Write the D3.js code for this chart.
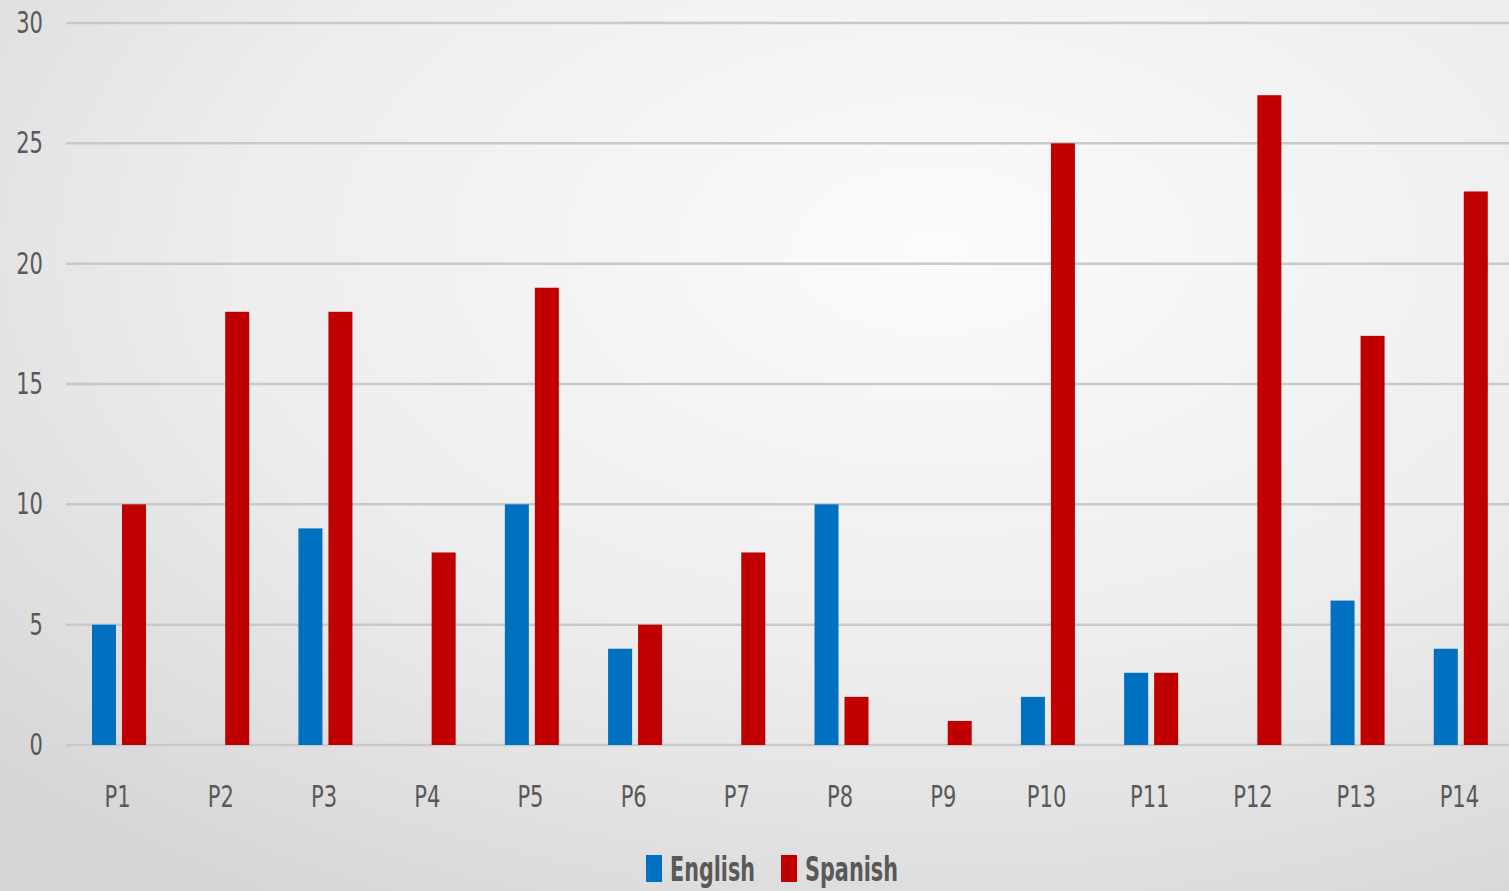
<!DOCTYPE html>
<html>
<head>
<meta charset="utf-8">
<script src="https://cdn.jsdelivr.net/npm/d3@7"></script>
<style>
  body { margin: 0; overflow: hidden; }
  text { font-family: "DejaVu Sans Condensed", "Liberation Sans", sans-serif; fill: #595959; }
</style>
</head>
<body>
<div id="chart"></div>
<script>
// chart values
const categories = ["P1","P2","P3","P4","P5","P6","P7","P8","P9","P10","P11","P12","P13","P14"];
const english = [5, 0, 9, 0, 10, 4, 0, 10, 0, 2, 3, 0, 6, 4];
const spanish = [10, 18, 18, 8, 19, 5, 8, 2, 1, 25, 3, 27, 17, 23];
const seriesNames = ["English", "Spanish"];
const seriesColors = ["#0070c0", "#c00000"];
const yTicks = [0, 5, 10, 15, 20, 25, 30];

const W = 1509, H = 891;
const margin = {top: 23, right: -2, bottom: 146, left: 66};
const w = W - margin.left - margin.right,
      h = H - margin.top - margin.bottom;
const squeeze = 0.78; // condensed look of the labels

const svg = d3.select("#chart").append("svg")
  .attr("width", W).attr("height", H);

// background gradient
const grad = svg.append("defs").append("radialGradient")
  .attr("id", "bg").attr("cx", "62%").attr("cy", "28%").attr("r", "85%");
grad.append("stop").attr("offset", "0%").attr("stop-color", "#fbfbfb");
grad.append("stop").attr("offset", "55%").attr("stop-color", "#ededed");
grad.append("stop").attr("offset", "100%").attr("stop-color", "#d6d6d6");
svg.append("rect").attr("width", W).attr("height", H).attr("fill", "url(#bg)");

const g = svg.append("g").attr("transform", "translate(" + margin.left + "," + margin.top + ")");

const x = d3.scaleBand().domain(categories).range([0, w]).paddingInner(0).paddingOuter(0);
const xSub = d3.scaleBand().domain(seriesNames).range([26, 80]).paddingInner(0.2);
const y = d3.scaleLinear().domain([0, 30]).range([h, 0]);

// gridlines
g.selectAll("line.grid")
  .data(yTicks)
  .enter().append("line")
  .attr("class", "grid")
  .attr("x1", 0).attr("x2", w)
  .attr("y1", d => y(d)).attr("y2", d => y(d))
  .attr("stroke", "#c9c9c9").attr("stroke-width", 2.5);

// y axis labels
const yAxis = d3.axisLeft(y).tickValues(yTicks).tickSize(0);
const gY = g.append("g").call(yAxis);
gY.select(".domain").remove();
gY.selectAll("text")
  .attr("x", -23 / squeeze)
  .attr("transform", "scale(" + squeeze + ",1)")
  .attr("font-size", 30).attr("fill", "#595959")
  .style("font-family", "'DejaVu Sans Condensed', sans-serif");

// x axis labels
const xAxis = d3.axisBottom(x).tickSize(0).tickPadding(41);
const gX = g.append("g").attr("transform", "translate(0," + h + ")").call(xAxis);
gX.select(".domain").remove();
gX.selectAll("text")
  .attr("transform", "scale(" + squeeze + ",1)")
  .attr("font-size", 30).attr("fill", "#595959")
  .style("font-family", "'DejaVu Sans Condensed', sans-serif");

// bars
const rows = categories.map((c, i) => ({cat: c, vals: [english[i], spanish[i]]}));
const groups = g.selectAll("g.cat")
  .data(rows)
  .enter().append("g")
  .attr("class", "cat")
  .attr("transform", d => "translate(" + x(d.cat) + ",0)");

groups.selectAll("rect")
  .data(d => d.vals.map((v, k) => ({name: seriesNames[k], value: v, k: k})))
  .enter().append("rect")
  .filter(d => d.value > 0)
  .attr("x", d => xSub(d.name))
  .attr("width", xSub.bandwidth())
  .attr("y", d => y(d.value))
  .attr("height", d => y(0) - y(d.value))
  .attr("fill", d => seriesColors[d.k]);

// legend
const legend = svg.append("g").attr("transform", "translate(646,855)");
const legendX = [0, 135];
const legendW = [85, 93];
seriesNames.forEach((name, k) => {
  const item = legend.append("g").attr("transform", "translate(" + legendX[k] + ",0)");
  item.append("rect").attr("width", 16).attr("height", 27).attr("fill", seriesColors[k]);
  item.append("text").attr("x", 24).attr("y", 14).attr("dy", "0.35em")
    .attr("font-size", 33).attr("font-weight", "bold").attr("fill", "#595959")
    .attr("textLength", legendW[k]).attr("lengthAdjust", "spacingAndGlyphs")
    .text(name);
});
</script>
</body>
</html>
